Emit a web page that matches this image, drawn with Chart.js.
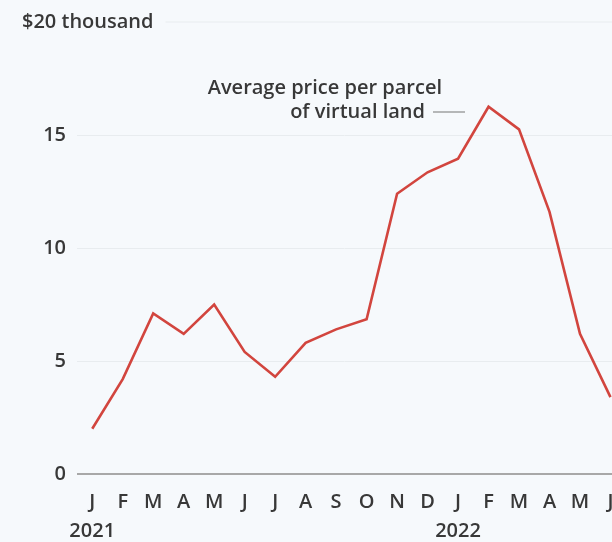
<!DOCTYPE html>
<html lang="en">
<head>
  <meta charset="UTF-8">
  <title>Virtual land prices</title>
  <script src="https://cdn.jsdelivr.net/npm/chart.js"></script>
  <style>
    html, body { margin: 0; padding: 0; background: #f6f9fc; overflow: hidden; }
    #wrap { width: 612px; height: 542px; position: relative; }
  </style>
</head>
<body>
<div id="wrap">
  <canvas id="chart" width="612" height="542"></canvas>
</div>

<script>
  // monthly labels, Jan 2021 - Jun 2022
  const months = ["J", "F", "M", "A", "M", "J", "J", "A", "S", "O", "N", "D", "J", "F", "M", "A", "M", "J"];
  const years = { 0: "2021", 12: "2022" };
  // average price per parcel, $ thousand
  const avgPrice = [2.0, 4.2, 7.1, 6.2, 7.5, 5.4, 4.3, 5.8, 6.4, 6.85, 12.4, 13.35, 13.95, 16.25, 15.25, 11.6, 6.2, 3.4];
  const yTicks = [0, 5, 10, 15, 20];

  const FONT = "'Open Sans', 'DejaVu Sans', sans-serif";
  const TEXT = "#383838";

  const overlay = {
    id: "overlay",
    afterDraw(chart) {
      const { ctx, chartArea, scales } = chart;
      const y20 = scales.y.getPixelForValue(20);
      ctx.save();
      ctx.font = "600 20px " + FONT;
      ctx.fillStyle = TEXT;
      ctx.textBaseline = "middle";
      ctx.textAlign = "left";
      ctx.fillText("$20 thousand", 22, y20);
      const w = ctx.measureText("$20 thousand").width;
      ctx.strokeStyle = "#e8ecef";
      ctx.lineWidth = 1;
      ctx.beginPath();
      ctx.moveTo(22 + w + 12, y20);
      ctx.lineTo(chartArea.right, y20);
      ctx.stroke();

      // series label
      ctx.textAlign = "right";
      ctx.fillText("Average price per parcel", 442, 88);
      ctx.fillText("of virtual land", 425, 112);
      ctx.strokeStyle = "#8a8a8a";
      ctx.lineWidth = 1.2;
      ctx.beginPath();
      ctx.moveTo(433, 112);
      ctx.lineTo(465, 112);
      ctx.stroke();
      ctx.restore();
    }
  };

  new Chart(document.getElementById("chart"), {
    type: "line",
    data: {
      datasets: [{
        data: avgPrice.map((v, i) => ({ x: i, y: v })),
        borderColor: "#d2453e",
        borderWidth: 2.6,
        pointRadius: 0,
        tension: 0,
        fill: false
      }]
    },
    options: {
      responsive: false,
      animation: false,
      layout: { padding: { top: 22, left: 0, right: 0, bottom: 0 } },
      plugins: { legend: { display: false }, tooltip: { enabled: false } },
      scales: {
        x: {
          type: "linear",
          min: -0.5,
          max: 17.05,
          afterBuildTicks: s => { s.ticks = months.map((m, i) => ({ value: i })); },
          afterFit: s => { s.paddingLeft = 0; s.paddingRight = 0; s.height = 68; },
          grid: { display: false, drawTicks: false },
          border: { display: false },
          ticks: {
            autoSkip: false,
            maxRotation: 0,
            padding: 14,
            color: TEXT,
            font: { family: FONT, size: 20, weight: 600, lineHeight: 1.45 },
            callback: v => years[v] ? [months[v], years[v]] : months[v]
          }
        },
        y: {
          min: 0,
          max: 20,
          afterBuildTicks: s => { s.ticks = yTicks.map(v => ({ value: v })); },
          afterFit: s => { s.width = 77; s.paddingTop = 0; s.paddingBottom = 0; },
          grid: {
            drawTicks: false,
            color: c => c.tick.value === 0 ? "#a8a8a8" : (c.tick.value === 20 ? "rgba(0,0,0,0)" : "#e8ecef"),
            lineWidth: c => c.tick.value === 0 ? 2 : 1
          },
          border: { display: false },
          ticks: {
            padding: 11,
            color: TEXT,
            font: { family: FONT, size: 20, weight: 600 },
            callback: v => v === 20 ? "" : v
          }
        }
      }
    },
    plugins: [overlay]
  });
</script>
</body>
</html>
